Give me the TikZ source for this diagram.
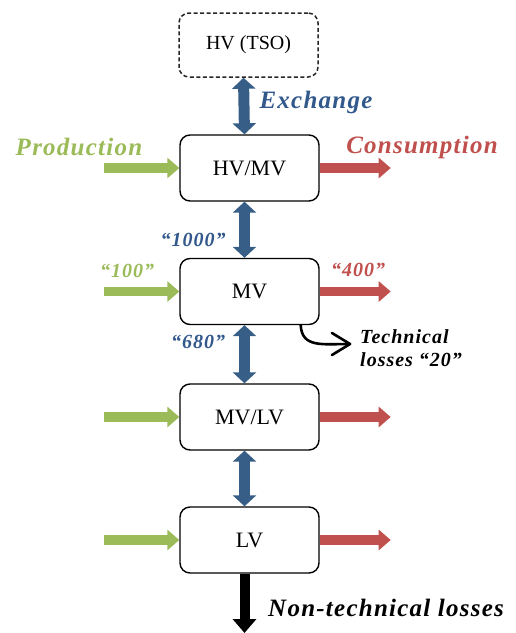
\documentclass[tikz,border=0pt]{standalone}
\usepackage{fontspec}
\setmainfont{Liberation Serif}
\newfontfamily\labfont[LetterSpace=5]{Liberation Serif}
\usetikzlibrary{arrows.meta}
\definecolor{flowblue}{RGB}{55,94,134}
\definecolor{txtblue}{RGB}{50,88,140}
\definecolor{prodgreen}{RGB}{155,187,89}
\definecolor{consred}{RGB}{192,80,77}
\tikzset{
  x=1pt, y=-1pt,
  levelbox/.style={draw=black, line width=1.4pt, rounded corners=10pt, fill=white,
    minimum width=139pt, minimum height=66pt, inner sep=0pt, font=\fontsize{22}{24}\selectfont},
  tsobox/.style={levelbox, draw=black!85, dashed, dash pattern=on 4pt off 2.5pt,
    line width=1.5pt, minimum height=64pt, font=\fontsize{20}{22}\selectfont},
  fatarrow/.style={line width=10pt, -{Triangle[width=22pt,length=12pt]}},
  dblarrow/.style={line width=11pt, color=flowblue,
    {Triangle[width=23pt,length=11pt]}-{Triangle[width=23pt,length=11pt]}},
  prodarrow/.style={fatarrow, color=prodgreen, line width=9.5pt, -{Triangle[width=20pt,length=12pt]}},
  consarrow/.style={fatarrow, color=consred, line width=9.5pt, -{Triangle[width=20pt,length=12pt]}},
  losscurve/.style={line width=2.6pt, line cap=round, line join=round},
  biglab/.style={inner sep=0pt, font=\labfont\bfseries\itshape\fontsize{25}{27}\selectfont},
  numlab/.style={inner sep=0pt, font=\labfont\bfseries\itshape\fontsize{20}{22}\selectfont},
}
\begin{document}
\begin{tikzpicture}
\useasboundingbox (0,0) rectangle (515,633);

% voltage levels
\node[tsobox]   (tso)  at (248.5,45)  {HV (TSO)};
\node[levelbox] (hvmv) at (249.5,168) {HV/MV};
\node[levelbox] (mv)   at (249.5,291.5) {MV};
\node[levelbox] (mvlv) at (249.5,417) {MV/LV};
\node[levelbox] (lv)   at (249.5,540) {LV};

% exchanges between levels
\draw[dblarrow] ([xshift=-5pt]tso.south)  -- ([xshift=-5pt]hvmv.north);
\draw[dblarrow] ([xshift=-5pt]hvmv.south) -- ([xshift=-5pt]mv.north);
\draw[dblarrow] ([xshift=-5pt]mv.south)   -- ([xshift=-5pt]mvlv.north);
\draw[dblarrow] ([xshift=-5pt]mvlv.south) -- ([xshift=-5pt]lv.north);

% production inputs and consumption outputs
\foreach \n in {hvmv,mv,mvlv,lv}{
  \coordinate (\n-in)  at ([xshift=-75pt]\n.west);
  \coordinate (\n-out) at ([xshift=71pt]\n.east);
  \draw[prodarrow] (\n-in) -- (\n.west);
  \draw[consarrow] (\n.east) -- (\n-out);
}

% non-technical losses
\coordinate (ntl) at (244.5,633);
\draw[fatarrow, color=black, -{Triangle[width=23pt,length=14pt]}] ([xshift=-5pt]lv.south) -- (ntl);

% technical losses: curved connector with an open barb
\coordinate (tl) at (350,344);
\draw[losscurve]
  ([xshift=-19pt]mv.south east) .. controls (302,348) and (322,344) .. (tl);
\draw[losscurve] ([shift={(-18pt,-11pt)}]tl) -- (tl) -- ([shift={(-18pt,11pt)}]tl);

% labels
\node[biglab, text=txtblue]    (exch) at (316,102) {Exchange};
\node[biglab, text=prodgreen]  (prod) at (79,147)  {Production};
\node[biglab, text=consred]    (cons) at (422,147) {Consumption};
\node[numlab, text=txtblue]    (l1000) at (193,240) {“1000”};
\node[numlab, text=prodgreen]  (l100)  at (127,271) {“100”};
\node[numlab, text=consred]    (l400)  at (358,270) {“400”};
\node[numlab, text=txtblue]    (l680)  at (198,342) {“680”};
\node[numlab, anchor=west, align=left] (tech) at (360,348)
  {Technical\\[1pt]losses “20”};
\node[biglab, anchor=west] (nontech) at (268,608) {Non-technical losses};
\end{tikzpicture}
\end{document}
